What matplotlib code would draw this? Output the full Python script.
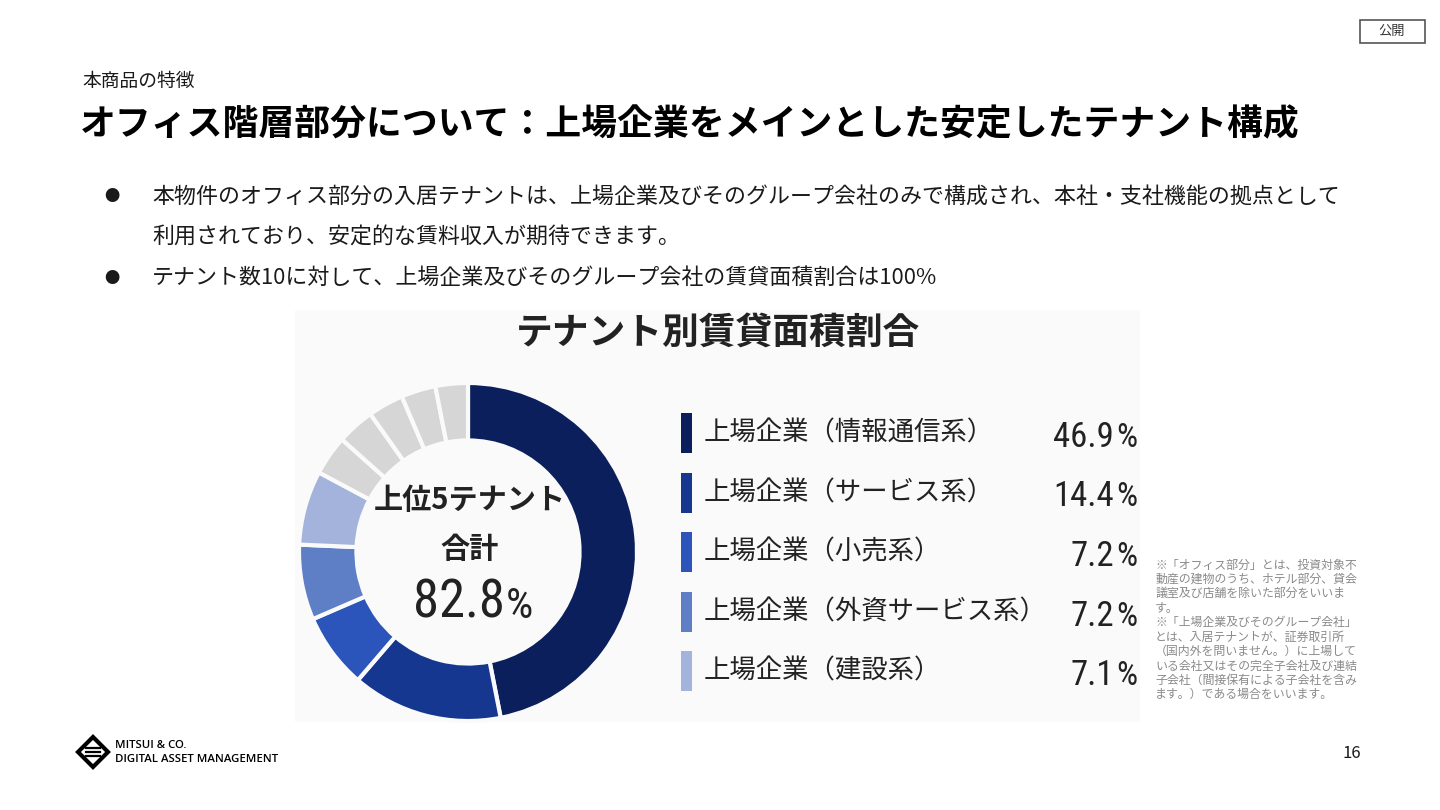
import matplotlib
matplotlib.use("Agg")
import matplotlib.pyplot as plt
from matplotlib import font_manager
from matplotlib.font_manager import FontProperties
from matplotlib.patches import Rectangle, Polygon

plt.rcParams['font.family'] = ['Noto Sans CJK JP', 'DejaVu Sans']

# データ
slide_label = "本商品の特徴"
slide_title = "オフィス階層部分について：上場企業をメインとした安定したテナント構成"
bullets = [
    ["本物件のオフィス部分の入居テナントは、上場企業及びそのグループ会社のみで構成され、本社・支社機能の拠点として",
     "利用されており、安定的な賃料収入が期待できます。"],
    ["テナント数10に対して、上場企業及びそのグループ会社の賃貸面積割合は100%"],
]
chart_title = "テナント別賃貸面積割合"
tenants = ["上場企業（情報通信系）", "上場企業（サービス系）", "上場企業（小売系）",
           "上場企業（外資サービス系）", "上場企業（建設系）"]
shares = [46.9, 14.4, 7.2, 7.2, 7.1]
others = [3.8, 3.6, 3.4, 3.3, 3.1]
top5_total = 82.8
colors = ["#0b1f5c", "#16378f", "#2b55ba", "#5e7ec6", "#a3b3db"]
grey = "#d6d6d6"
notes = [
    "※「オフィス部分」とは、投資対象不",
    "動産の建物のうち、ホテル部分、貸会",
    "議室及び店舗を除いた部分をいいま",
    "す。",
    "※「上場企業及びそのグループ会社」",
    "とは、入居テナントが、証券取引所",
    "（国内外を問いません。）に上場して",
    "いる会社又はその完全子会社及び連結",
    "子会社（間接保有による子会社を含み",
    "ます。）である場合をいいます。",
]

W, H = 1440, 810
fig = plt.figure(figsize=(W / 100, H / 100), dpi=100)
fig.patch.set_facecolor("white")


def px(x, y):
    return x / W, 1 - y / H


def txt(x, y, s, **kw):
    fig.text(*px(x, y), s, **kw)


# 数字用の細いフォントを探す
narrow = None
cands = [f for f in font_manager.fontManager.ttflist
         if f.stretch in ("condensed", "semi-condensed", "extra-condensed")
         or "Narrow" in f.name or "Condensed" in f.name]
for fam in ["Roboto Condensed", "Noto Sans", "Liberation Sans Narrow", "Open Sans", "DejaVu Sans", "Roboto"]:
    hits = [f for f in cands if f.name == fam and f.style == "normal"]
    hits.sort(key=lambda f: abs((f.weight if isinstance(f.weight, int) else 400) - 400))
    if hits:
        narrow = hits[0].fname
        break


def numfont(size):
    if narrow:
        return FontProperties(fname=narrow, size=size)
    return FontProperties(family="Noto Sans CJK JP", size=size * 0.85)


dark = "#1a1a1a"

# ヘッダー
txt(82, 81, slide_label, fontsize=13.5, color=dark, va="center")
txt(80, 125, slide_title, fontsize=25.8, fontweight="bold", color="black", va="center")

# 公開バッジ
fig.patches.append(Rectangle(px(1360, 43), 65 / W, 23 / H, transform=fig.transFigure,
                             fill=False, edgecolor="#555555", linewidth=1.2))
txt(1392, 31, "公開", fontsize=9.5, color="#333333", ha="center", va="center")

# 箇条書き
y = 197
for b in bullets:
    txt(112, y, "●", fontsize=11, color=dark, ha="center", va="center")
    for line in b:
        txt(152, y, line, fontsize=15.8, color=dark, va="center")
        y += 40.5

# グラフ背景
fig.patches.append(Rectangle(px(295, 722), 845 / W, 412 / H, transform=fig.transFigure,
                             facecolor="#fafafa", edgecolor="none", zorder=-1))
txt(718, 333, chart_title, fontsize=26.5, fontweight="bold", color="#222222", ha="center", va="center")

# ドーナツ
ax = fig.add_axes([288 / W, 1 - 732 / H, 360 / W, 360 / H])
ax.pie(shares + others, colors=colors + [grey] * len(others), startangle=90,
       counterclock=False, radius=1,
       wedgeprops=dict(width=0.34, edgecolor="#fafafa", linewidth=3))
ax.set_xlim(-1.065, 1.065)
ax.set_ylim(-1.065, 1.065)
ax.set_aspect("equal")
ax.axis("off")

txt(470, 500, "上位5テナント", fontsize=21, fontweight="bold", color="#222222", ha="center", va="center")
txt(470, 549, "合計", fontsize=21, fontweight="bold", color="#222222", ha="center", va="center")
txt(505, 618, f"{top5_total}", color="#222222", ha="right", va="baseline", fontproperties=numfont(38))
txt(506, 618, "%", color="#222222", ha="left", va="baseline", fontproperties=numfont(31))

# 凡例
for i, (name, val, c) in enumerate(zip(tenants, shares, colors)):
    yc = 433 + i * 59.5
    fig.patches.append(Rectangle(px(681, yc + 20), 11 / W, 40 / H, transform=fig.transFigure,
                                 facecolor=c, edgecolor="none"))
    txt(704, yc, name, fontsize=19, color="#222222", va="center")
    txt(1114, yc + 14, f"{val}", color="#222222", ha="right", va="baseline", fontproperties=numfont(25))
    txt(1116, yc + 14, "%", color="#222222", ha="left", va="baseline", fontproperties=numfont(24))

# 注記
for i, line in enumerate(notes):
    txt(1155, 565 + i * 14.4, line, fontsize=8.6, color="#8a8a8a", va="center")

# ロゴ
cx, cy = 93, 752
fig.patches.append(Polygon([px(cx, cy - 15), px(cx + 15, cy), px(cx, cy + 15), px(cx - 15, cy)],
                           closed=True, transform=fig.transFigure, fill=False,
                           edgecolor="black", linewidth=3))
for dy in (-4, 0, 4):
    fig.lines.append(plt.Line2D([px(cx - 7, 0)[0], px(cx + 7, 0)[0]],
                                [px(0, cy + dy)[1]] * 2, transform=fig.transFigure,
                                color="black", linewidth=1.6))
txt(115, 745, "MITSUI & CO.", fontsize=8.2, fontweight="semibold", color="black", va="center",
    family=["Open Sans", "DejaVu Sans"])
txt(115, 759, "DIGITAL ASSET MANAGEMENT", fontsize=8.2, fontweight="semibold", color="black", va="center",
    family=["Open Sans", "DejaVu Sans"])

txt(1352, 753, "16", fontsize=12, color=dark, ha="center", va="center")

fig.savefig("out.png", dpi=100)
